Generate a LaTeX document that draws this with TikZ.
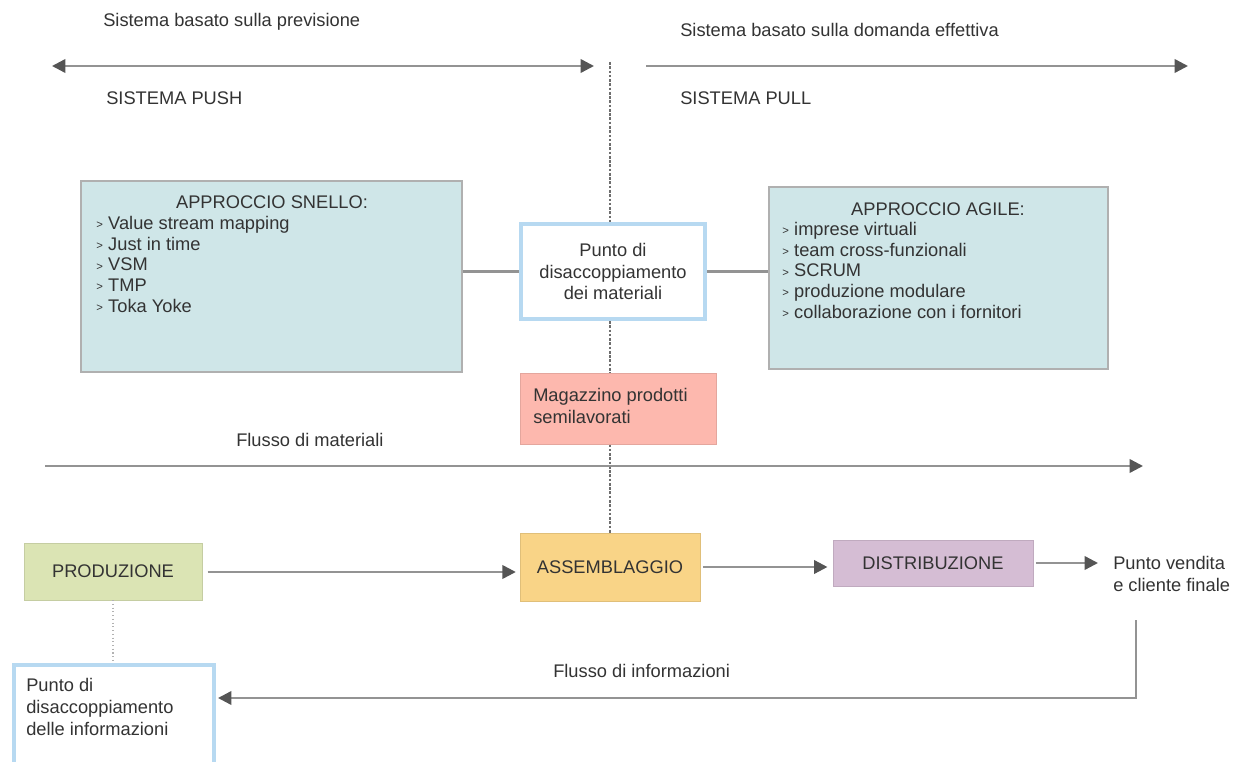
\documentclass[tikz,border=0pt]{standalone}
\usepackage{fontspec}
\setmainfont{Liberation Sans}
\usetikzlibrary{arrows.meta}
\definecolor{txt}{HTML}{333333}
\definecolor{ln}{HTML}{939393}
\definecolor{tip}{HTML}{555555}
\definecolor{teal}{HTML}{CFE6E8}
\definecolor{tealb}{HTML}{B0B0B0}
\definecolor{blueb}{HTML}{B7D9F1}
\definecolor{salmon}{HTML}{FDB8AE}
\definecolor{olive}{HTML}{DBE4B4}
\definecolor{orange}{HTML}{F9D487}
\definecolor{lilac}{HTML}{D5BDD4}
\tikzset{
  lbl/.style={text=txt, inner sep=0pt, font=\fontsize{13.7}{15.5}\selectfont},
  conn/.style={draw=ln, line width=1.8pt},
  arr/.style={conn, -{Triangle[length=10pt,width=10pt,fill=tip,color=tip]}},
  darr/.style={conn, {Triangle[length=10pt,width=10pt,fill=tip,color=tip]}-{Triangle[length=10pt,width=10pt,fill=tip,color=tip]}},
  dline/.style={draw=ln!75!black, line width=0.8pt, dash pattern=on 2pt off 1.2pt},
  tealbox/.style={draw=tealb, line width=1.4pt, fill=teal, inner sep=0pt, anchor=north west},
  bluebox/.style={draw=blueb, line width=3pt, fill=white, inner sep=0pt},
  flat/.style={inner sep=0pt, text=txt, font=\fontsize{13.7}{15.5}\selectfont},
}
\newcommand{\bul}{\raisebox{0.6pt}{\fontsize{8.5}{8.5}\selectfont >}\hspace{4pt}}
\begin{document}
\begin{tikzpicture}[x=0.75pt,y=-0.75pt]
\clip (0,0) rectangle (1246,762);
\fill[white] (0,0) rectangle (1246,762);

% top labels and arrows
\node[lbl, anchor=west] (prev) at (103,22) {Sistema basato sulla previsione};
\node[lbl, anchor=west] (dom) at (680,30) {Sistema basato sulla domanda effettiva};
\node[lbl, anchor=west] (push) at (106,98) {SISTEMA PUSH};
\node[lbl, anchor=west] (pull) at (680,98) {SISTEMA PULL};
\coordinate (pl1) at (52,66);
\coordinate (pl2) at (594,66);
\coordinate (pr1) at (646,66);
\coordinate (pr2) at (1188,66);
\draw[darr] (pl1) -- (pl2);
\draw[arr] (pr1) -- (pr2);

% boxes
\node[tealbox, minimum width=285.75pt, minimum height=143.25pt] (snello) at (80,180) {};
\node[lbl, anchor=north] (snellot) at (272,195) {APPROCCIO SNELLO:};
\node[lbl, anchor=north west, align=left] (snellol) at (96,216) {\bul Value stream mapping\\\bul Just in time\\\bul VSM\\\bul TMP\\\bul Toka Yoke};

\node[tealbox, minimum width=254.25pt, minimum height=136.5pt] (agile) at (768,186) {};
\node[lbl, anchor=north] (agilet) at (938,202) {APPROCCIO AGILE:};
\node[lbl, anchor=north west, align=left] (agilel) at (782,222) {\bul imprese virtuali\\\bul team cross-funzionali\\\bul SCRUM\\\bul produzione modulare\\\bul collaborazione con i fornitori};

\node[bluebox, minimum width=138pt, minimum height=71.25pt, align=center, lbl, font=\fontsize{13.7}{16.2}\selectfont] (punto) at (613,271.5) {Punto di\\disaccoppiamento\\dei materiali};

\node[draw=salmon!90!black, line width=0.4pt, fill=salmon, inner sep=0pt, anchor=north west, minimum width=147pt, minimum height=53.25pt] (mag) at (520,373) {};
\node[lbl, anchor=north west, align=left, font=\fontsize{13.7}{16.5}\selectfont] (magt) at (533,388) {Magazzino prodotti\\semilavorati};

% vertical dashed line
\coordinate (dtop) at (610,62);
\draw[dline] (dtop) -- (dtop |- punto.north);
\draw[dline] (punto.south -| dtop) -- (mag.north -| dtop);
\draw[dline] (mag.south -| dtop) -- (610,533);

% horizontal connectors
\draw[conn] (punto.west -| snello.east) -- (punto.west);
\draw[conn] (punto.east) -- (punto.east -| agile.west);

% materials flow
\node[lbl, anchor=west] (flm) at (236,440) {Flusso di materiali};
\coordinate (fm1) at (45,466);
\coordinate (fm2) at (1143,466);
\draw[arr] (fm1) -- (fm2);

% process boxes
\node[fill=olive, draw=olive!90!black, line width=0.3pt, minimum width=133.5pt, minimum height=42.75pt, flat] (prod) at (113,571.5) {PRODUZIONE};
\node[fill=orange, draw=orange!90!black, line width=0.3pt, minimum width=135pt, minimum height=51pt, flat] (ass) at (610,567) {ASSEMBLAGGIO};
\node[fill=lilac, draw=lilac!90!black, line width=0.3pt, minimum width=150pt, minimum height=34.5pt, flat] (dist) at (933,563) {DISTRIBUZIONE};
\node[lbl, anchor=west, align=left, font=\fontsize{13.7}{16}\selectfont] (pv) at (1113,574) {Punto vendita\\e cliente finale};
\coordinate (pvin) at (1098,563);

\draw[arr, shorten <=4pt, shorten >=3pt] (prod.east |- 0,572) -- (ass.west |- 0,572);
\draw[arr, shorten <=2pt, shorten >=4pt] (ass.east) -- (ass.east -| dist.west);
\draw[arr, shorten <=2pt] (dist.east) -- (pvin);

% info box
\node[bluebox, anchor=north west, minimum width=150pt, minimum height=84pt] (info) at (12,663) {};
\node[lbl, anchor=north west, align=left, font=\fontsize{13.7}{16.5}\selectfont] (infot) at (26,678) {Punto di\\disaccoppiamento\\delle informazioni};
\draw[draw=gray!60, line width=0.8pt, dotted] (prod.south) -- (info.north -| prod.south);

% info flow
\node[lbl, anchor=west] (fli) at (553,671) {Flusso di informazioni};
\coordinate (fi1) at (1136,620);
\coordinate (fi2) at (1136,698);
\coordinate (fi3) at (218,698);
\draw[arr] (fi1) -- (fi2) -- (fi3);
\end{tikzpicture}
\end{document}
